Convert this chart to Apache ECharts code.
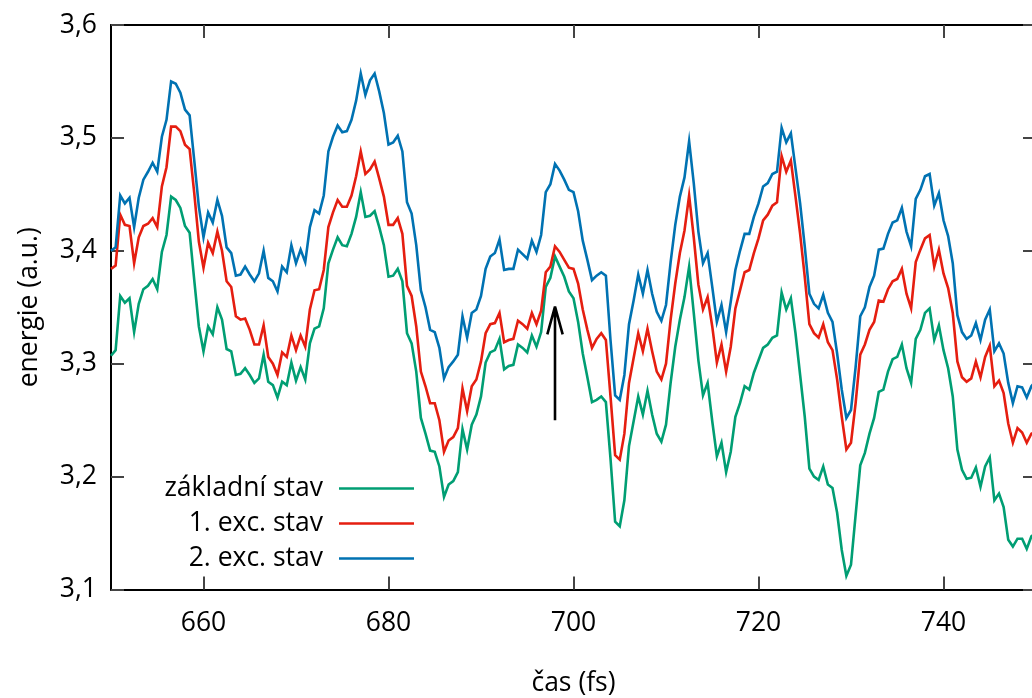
<!DOCTYPE html>
<html>
<head>
<meta charset="utf-8">
<script src="https://cdn.jsdelivr.net/npm/echarts@6/dist/echarts.min.js"></script>
<style>
html,body{margin:0;padding:0;background:#fff;}
#chart{width:1032px;height:698px;}
</style>
</head>
<body>
<div id="chart"></div>
<script>
// time axis: samples every 0.5 fs from 650 fs to 750 fs
const tStart = 650;
const tStep = 0.5;

const xTicks = [660, 680, 700, 720, 740];
const yTicks = [3.1, 3.2, 3.3, 3.4, 3.5, 3.6];

const names = ['základní stav', '1. exc. stav', '2. exc. stav'];
const colors = ['#009e73', '#e51e10', '#0072b2'];

// základní stav (ground state)
const ground = [
  3.307,3.312,3.360,3.354,3.358,3.328,3.353,3.366,3.369,3.375,
  3.366,3.399,3.414,3.448,3.445,3.438,3.422,3.416,3.374,3.333,
  3.311,3.333,3.326,3.350,3.339,3.313,3.311,3.290,3.291,3.296,
  3.290,3.283,3.287,3.308,3.284,3.281,3.270,3.284,3.281,3.301,
  3.285,3.297,3.286,3.318,3.331,3.333,3.349,3.389,3.401,3.412,
  3.405,3.404,3.415,3.430,3.452,3.430,3.431,3.435,3.421,3.405,
  3.377,3.378,3.384,3.373,3.327,3.318,3.293,3.252,3.238,3.223,
  3.222,3.209,3.182,3.193,3.196,3.204,3.242,3.224,3.246,3.255,
  3.271,3.301,3.310,3.312,3.322,3.295,3.298,3.299,3.317,3.314,
  3.310,3.325,3.315,3.328,3.368,3.376,3.395,3.386,3.377,3.364,
  3.358,3.337,3.309,3.288,3.266,3.268,3.271,3.266,3.216,3.160,
  3.156,3.179,3.227,3.249,3.271,3.255,3.276,3.255,3.238,3.231,
  3.246,3.283,3.315,3.339,3.359,3.386,3.345,3.303,3.272,3.283,
  3.249,3.218,3.230,3.204,3.222,3.253,3.265,3.280,3.277,3.292,
  3.303,3.314,3.317,3.323,3.325,3.363,3.348,3.358,3.327,3.290,
  3.253,3.207,3.200,3.197,3.209,3.193,3.190,3.168,3.135,3.112,
  3.122,3.166,3.210,3.221,3.238,3.252,3.275,3.277,3.293,3.304,
  3.306,3.317,3.296,3.283,3.322,3.330,3.345,3.349,3.321,3.334,
  3.312,3.296,3.271,3.224,3.206,3.198,3.199,3.208,3.191,3.209,
  3.217,3.179,3.185,3.173,3.144,3.138,3.145,3.145,3.136,3.147,
  3.150
];

// 1. exc. stav
const exc1 = [
  3.384,3.387,3.432,3.423,3.422,3.389,3.412,3.422,3.424,3.429,
  3.421,3.457,3.474,3.510,3.510,3.506,3.494,3.490,3.451,3.408,
  3.385,3.407,3.398,3.417,3.400,3.373,3.368,3.342,3.339,3.340,
  3.330,3.317,3.317,3.334,3.306,3.300,3.290,3.310,3.306,3.325,
  3.312,3.325,3.315,3.348,3.365,3.366,3.383,3.421,3.434,3.445,
  3.439,3.439,3.449,3.466,3.488,3.468,3.472,3.479,3.464,3.448,
  3.423,3.423,3.429,3.415,3.369,3.360,3.333,3.293,3.280,3.265,
  3.265,3.250,3.222,3.232,3.235,3.243,3.278,3.258,3.280,3.286,
  3.302,3.327,3.335,3.336,3.345,3.319,3.321,3.322,3.338,3.335,
  3.331,3.345,3.335,3.347,3.381,3.386,3.404,3.399,3.392,3.385,
  3.384,3.371,3.348,3.330,3.314,3.322,3.327,3.321,3.271,3.219,
  3.215,3.238,3.283,3.305,3.327,3.311,3.331,3.311,3.293,3.286,
  3.300,3.339,3.371,3.398,3.418,3.449,3.412,3.370,3.348,3.359,
  3.333,3.301,3.317,3.293,3.315,3.349,3.365,3.381,3.383,3.398,
  3.411,3.427,3.432,3.440,3.443,3.484,3.470,3.480,3.448,3.415,
  3.377,3.335,3.327,3.323,3.335,3.319,3.312,3.286,3.253,3.224,
  3.230,3.265,3.308,3.317,3.330,3.337,3.356,3.355,3.366,3.373,
  3.375,3.384,3.362,3.349,3.390,3.401,3.411,3.414,3.386,3.401,
  3.380,3.367,3.345,3.302,3.288,3.284,3.287,3.302,3.288,3.306,
  3.316,3.280,3.285,3.274,3.247,3.230,3.243,3.239,3.230,3.238,
  3.240
];

// 2. exc. stav
const exc2 = [
  3.400,3.403,3.449,3.442,3.447,3.421,3.447,3.463,3.470,3.478,
  3.470,3.501,3.516,3.550,3.548,3.540,3.525,3.520,3.480,3.439,
  3.412,3.434,3.425,3.445,3.431,3.403,3.398,3.378,3.379,3.386,
  3.379,3.373,3.380,3.400,3.376,3.373,3.364,3.386,3.381,3.405,
  3.389,3.401,3.390,3.421,3.436,3.433,3.449,3.488,3.501,3.511,
  3.505,3.506,3.516,3.533,3.557,3.538,3.551,3.557,3.541,3.522,
  3.494,3.496,3.502,3.488,3.443,3.433,3.405,3.365,3.350,3.330,
  3.328,3.314,3.287,3.297,3.302,3.308,3.342,3.323,3.345,3.348,
  3.360,3.384,3.395,3.398,3.410,3.383,3.384,3.384,3.401,3.397,
  3.393,3.409,3.399,3.414,3.452,3.459,3.477,3.471,3.463,3.454,
  3.452,3.435,3.409,3.392,3.374,3.378,3.381,3.378,3.321,3.272,
  3.268,3.290,3.335,3.356,3.379,3.362,3.383,3.362,3.346,3.338,
  3.352,3.390,3.423,3.448,3.465,3.497,3.460,3.417,3.389,3.398,
  3.368,3.337,3.352,3.328,3.355,3.383,3.400,3.415,3.415,3.430,
  3.442,3.457,3.460,3.468,3.470,3.509,3.496,3.504,3.473,3.442,
  3.404,3.362,3.353,3.349,3.361,3.345,3.337,3.309,3.277,3.252,
  3.259,3.297,3.342,3.350,3.368,3.378,3.401,3.402,3.415,3.425,
  3.427,3.438,3.417,3.404,3.446,3.454,3.466,3.468,3.440,3.451,
  3.427,3.413,3.389,3.343,3.328,3.322,3.325,3.336,3.321,3.339,
  3.348,3.311,3.318,3.309,3.283,3.265,3.280,3.279,3.270,3.280,
  3.285
];

// annotation arrow (data coordinates): shaft from bottom to tip, plus two barbs
const arrowTime = 698;
const arrowFrom = 3.25;
const arrowTo = 3.3505;
const arrowBarbDx = 0.83;
const arrowBarbY = 3.326;

function pairs(vals) {
  return vals.map((v, i) => [tStart + i * tStep, v]);
}

const FONT = 'Open Sans';
const FS = 26.5;

const chart = echarts.init(document.getElementById('chart'), null, {renderer: 'canvas'});

const series = [ground, exc1, exc2].map((vals, k) => ({
  name: names[k],
  type: 'line',
  data: pairs(vals),
  showSymbol: false,
  symbol: 'none',
  lineStyle: {color: colors[k], width: 2.6, join: 'miter'},
  itemStyle: {color: colors[k]},
  emphasis: {disabled: true},
  silent: true,
  z: 2 + k
}));

series.push({
  name: 'arrow',
  type: 'line',
  data: [
    [arrowTime, arrowFrom],
    [arrowTime, arrowTo],
    [arrowTime - arrowBarbDx, arrowBarbY],
    [arrowTime, arrowTo],
    [arrowTime + arrowBarbDx, arrowBarbY]
  ],
  showSymbol: false,
  symbol: 'none',
  lineStyle: {color: '#000', width: 2.6},
  silent: true,
  z: 10
});

const legendRows = [475, 510, 545];
const legends = names.map((n, k) => ({
  data: [n],
  orient: 'vertical',
  align: 'right',
  right: 618,
  top: legendRows[k],
  padding: 0,
  icon: 'rect',
  itemWidth: 75,
  itemHeight: 2.6,
  selectedMode: false,
  textStyle: {fontFamily: FONT, fontSize: FS, color: '#000', padding: [0, 11, 0, 0]}
}));

const xCommon = {
  type: 'value',
  min: 650,
  max: 750,
  axisLine: {show: true, onZero: false, lineStyle: {color: '#000', width: 2}},
  axisTick: {show: true, inside: true, length: 13, customValues: xTicks, lineStyle: {color: '#444', width: 2}},
  splitLine: {show: false}
};
const yCommon = {
  type: 'value',
  min: 3.1,
  max: 3.6,
  interval: 0.1,
  axisLine: {show: true, onZero: false, lineStyle: {color: '#000', width: 2}},
  axisTick: {show: true, inside: true, length: 13, customValues: yTicks, lineStyle: {color: '#444', width: 2}},
  splitLine: {show: false}
};

chart.setOption({
  animation: false,
  backgroundColor: '#fff',
  textStyle: {fontFamily: FONT},
  grid: {left: 111, top: 25, width: 925, height: 564.5, containLabel: false, outerBoundsMode: 'none'},
  legend: legends,
  xAxis: [
    Object.assign({}, xCommon, {
      position: 'bottom',
      name: 'čas (fs)',
      nameLocation: 'middle',
      nameGap: 80,
      nameTextStyle: {fontFamily: FONT, fontSize: FS, color: '#000'},
      axisLabel: {show: true, customValues: xTicks, margin: 20, fontFamily: FONT, fontSize: FS, color: '#000'}
    }),
    Object.assign({}, xCommon, {position: 'top', axisLabel: {show: false}})
  ],
  yAxis: [
    Object.assign({}, yCommon, {
      position: 'left',
      name: 'energie (a.u.)',
      nameLocation: 'middle',
      nameGap: 68,
      nameTextStyle: {fontFamily: FONT, fontSize: FS, color: '#000'},
      axisLabel: {show: true, customValues: yTicks, margin: 14, fontFamily: FONT, fontSize: FS, color: '#000',
        formatter: v => v.toFixed(1).replace('.', ',')}
    }),
    Object.assign({}, yCommon, {position: 'right', axisLabel: {show: false}})
  ],
  series: series
});
</script>
</body>
</html>
